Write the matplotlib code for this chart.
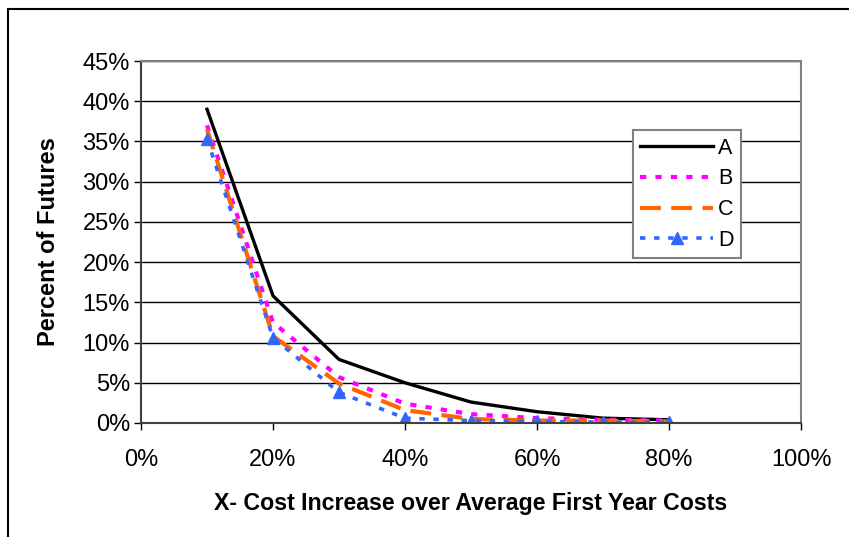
import matplotlib
matplotlib.use("Agg")
import matplotlib.pyplot as plt
from matplotlib.ticker import PercentFormatter
from matplotlib.patches import Rectangle

plt.rcParams['font.family'] = ['Liberation Sans', 'DejaVu Sans']

x = [0.1, 0.2, 0.3, 0.4, 0.5, 0.6, 0.7, 0.8]
a = [0.390, 0.158, 0.079, 0.050, 0.026, 0.014, 0.006, 0.004]
b = [0.370, 0.125, 0.057, 0.024, 0.011, 0.006, 0.004, 0.003]
c = [0.365, 0.108, 0.049, 0.016, 0.005, 0.003, 0.003, 0.002]
d = [0.353, 0.106, 0.038, 0.006, 0.003, 0.002, 0.001, 0.001]

fig = plt.figure(figsize=(8.49, 5.37), dpi=100)
ax = fig.add_axes([0.1661, 0.2123, 0.7774, 0.6741])

# outer chart border (left and top edges only are visible)
fig.patches.append(Rectangle((8 / 849, -0.1), 2, 1.1 - 9 / 537, transform=fig.transFigure,
                             fill=False, edgecolor='black', linewidth=1.5))

ax.plot(x, a, color='black', lw=2.4, label='A')
ax.plot(x, b, color='#FF00FF', lw=3, linestyle=(0, (1.5, 2.2)), label='B')
ax.plot(x, c, color='#FF6600', lw=3, linestyle=(0, (5, 2.5)), label='C')
ax.plot(x, d, color='#3366FF', lw=2.6, linestyle=(0, (1.5, 2.4)),
        marker='^', markersize=9, label='D')

ax.set_xlim(0, 1)
ax.set_ylim(0, 0.45)
ax.set_xticks([0, 0.2, 0.4, 0.6, 0.8, 1.0])
ax.set_yticks([i * 0.05 for i in range(10)])
ax.xaxis.set_major_formatter(PercentFormatter(1.0, decimals=0))
ax.yaxis.set_major_formatter(PercentFormatter(1.0, decimals=0))
ax.tick_params(direction='out', length=5, width=1, labelsize=17, colors='black')
ax.tick_params(axis='x', pad=14)
ax.tick_params(axis='y', pad=3)

ax.grid(axis='y', color='black', linewidth=1)
ax.set_axisbelow(True)
for s in ['top', 'right']:
    ax.spines[s].set_color('#808080')
    ax.spines[s].set_linewidth(1.5)
for s in ['left', 'bottom']:
    ax.spines[s].set_color('#404040')
    ax.spines[s].set_linewidth(1.5)

ax.set_xlabel('X- Cost Increase over Average First Year Costs', fontsize=16.7,
              fontweight='bold', labelpad=15)
ax.set_ylabel('Percent of Futures', fontsize=17, fontweight='bold', labelpad=16)

leg = ax.legend(loc='upper left', bbox_to_anchor=(0.745, 0.809), fontsize=15.5,
                frameon=True, fancybox=False, framealpha=1, edgecolor='#808080',
                handlelength=3.4, handletextpad=0.2,
                labelspacing=0.45, borderpad=0.35, borderaxespad=0)
leg.get_frame().set_linewidth(1.5)

fig.savefig('out.png', dpi=100)
